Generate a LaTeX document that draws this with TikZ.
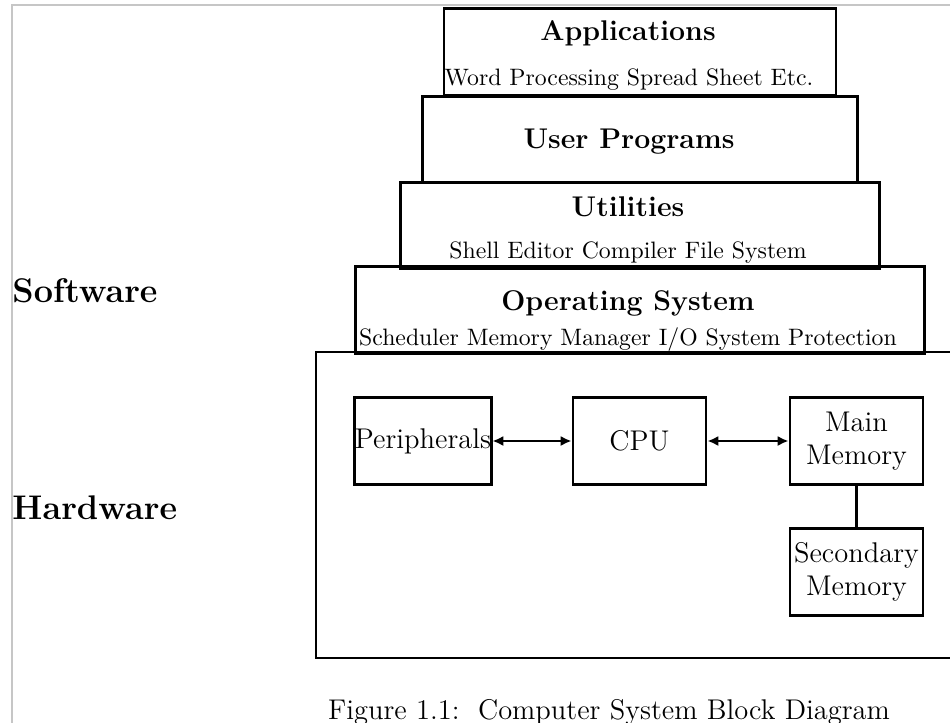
\documentclass[tikz,border=0pt]{standalone}
\usepackage{tikz}
\usetikzlibrary{arrows.meta}

\tikzset{
  stackbox/.style={draw, line width=1.2pt, inner sep=0pt, minimum height=1.28cm},
  hwbox/.style={draw, line width=1.2pt, inner sep=0pt, align=center, font=\large,
    minimum width=1.97cm, minimum height=1.30cm},
  sidelabel/.style={anchor=west, inner sep=0pt, font=\Large\bfseries},
  boxtitle/.style={inner sep=0pt, font=\large\bfseries},
  boxsub/.style={inner sep=0pt},
  link/.style={line width=1.1pt, {Latex[length=1.6mm,width=1.5mm]}-{Latex[length=1.6mm,width=1.5mm]}}
}

\begin{document}
\begin{tikzpicture}[x=0.0148cm, y=-0.0148cm]
        \useasboundingbox (0,0) rectangle (950,723);
        \draw[gray!45, line width=0.5pt] (12,723) -- (12,5) -- (950,5);

        \node[stackbox, minimum width=5.80cm] (apps) at (640,52) {};
        \node[stackbox, minimum width=6.45cm] (userprog) at (640,139.5) {};
        \node[stackbox, minimum width=7.10cm] (utils) at (640,225.5) {};
        \node[stackbox, minimum width=8.41cm] (os) at (640,310) {};
        \node[boxtitle] (appsname) at (628,33) {Applications};
        \node[boxsub] (appslist) at (629,80) {Word Processing Spread Sheet Etc.};
        \node[boxtitle] (userprogname) at (629,142) {User Programs};
        \node[boxtitle] (utilsname) at (628,207) {Utilities};
        \node[boxsub] (utilslist) at (628,253) {Shell Editor Compiler File System};
        \node[boxtitle] (osname) at (628,303) {Operating System};
        \node[boxsub] (oslist) at (628,340) {Scheduler Memory Manager I/O System Protection};

        \draw[line width=1.2pt] (960,352) -- (316,352) -- (316,658) -- (960,658);
        \node[hwbox] (periph) at (423,441) {Peripherals};
        \node[hwbox] (cpu) at (639.5,441) {CPU};
        \node[hwbox] (mainmem) at (856.5,441) {Main\\Memory};
        \node[hwbox] (secmem) at (856.5,572) {Secondary\\Memory};
        \draw[link] (periph) -- (cpu);
        \draw[link] (cpu) -- (mainmem);
        \draw[line width=1.2pt] (mainmem) -- (secmem);

        \node[sidelabel] (software) at (12,291) {Software};
        \node[sidelabel] (hardware) at (12,508) {Hardware};
        \node (caption) at (609,712) {\large Figure 1.1:\ \ Computer System Block Diagram};
    \end{tikzpicture}
\end{document}
